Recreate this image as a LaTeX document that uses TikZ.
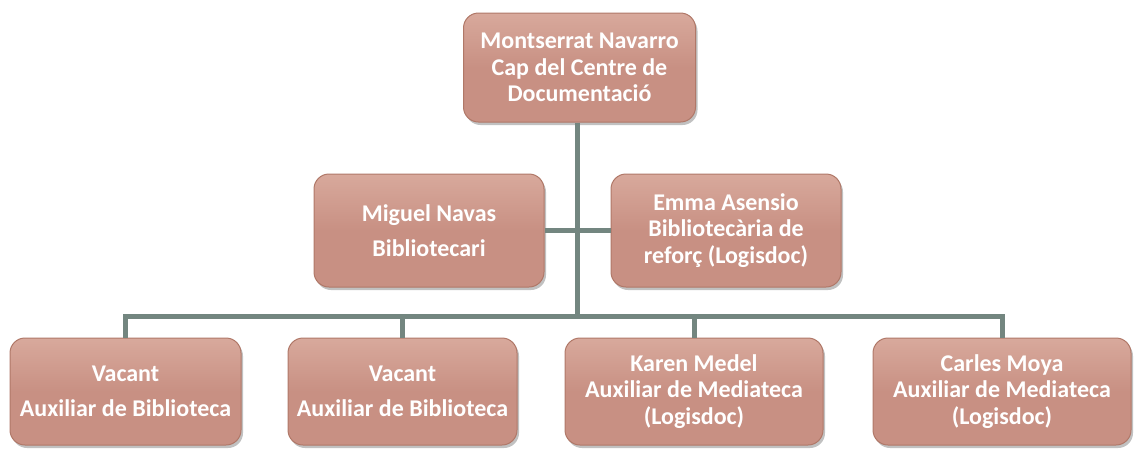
\documentclass[tikz,border=0pt]{standalone}
\usepackage{fontspec}
\setmainfont{Carlito}
\usetikzlibrary{shadows}
\definecolor{boxfill}{HTML}{C89083}
\definecolor{boxtop}{HTML}{D8A99C}
\definecolor{boxedge}{HTML}{B07868}
\definecolor{linkcol}{HTML}{738680}
\tikzset{
  x=1pt, y=-1pt,
  orgbox/.style={draw=boxedge, line width=1pt, rounded corners=15pt,
    top color=boxtop, bottom color=boxfill, middle color=boxfill,
    minimum width=230pt, inner sep=2pt, align=center,
    text=white, font=\bfseries\fontsize{24}{26.5}\selectfont,
    drop shadow={opacity=0.35, shadow xshift=2pt, shadow yshift=-3pt, fill=black!70}},
  widebox/.style={orgbox, minimum width=258pt},
  link/.style={draw=linkcol, line width=5pt}
}
\begin{document}
\begin{tikzpicture}
\useasboundingbox (0,0) rectangle (1134,448);
\node[orgbox, minimum width=232pt, minimum height=109pt] (top) at (579.5,67.5) {Montserrat Navarro\\Cap del Centre de\\Documentació};
\node[orgbox, minimum height=113pt] (ml) at (429,230.5) {Miguel Navas\\[8pt]Bibliotecari};
\node[orgbox, minimum height=113pt] (mr) at (726,230.5) {Emma Asensio\\Bibliotecària de\\reforç (Logisdoc)};
\node[orgbox, minimum width=231pt, minimum height=107pt] (b1) at (125.5,391.5) {Vacant\\[8pt]Auxiliar de Biblioteca};
\node[orgbox, minimum width=229pt, minimum height=107pt] (b2) at (402.5,391.5) {Vacant\\[8pt]Auxiliar de Biblioteca};
\node[widebox, minimum height=107pt] (b3) at (694,391.5) {Karen Medel\\Auxiliar de Mediateca\\(Logisdoc)};
\node[widebox, minimum height=107pt] (b4) at (1002,391.5) {Carles Moya\\Auxiliar de Mediateca\\(Logisdoc)};
\coordinate (j) at (577,316);
\draw[link] (top.south -| j) -- (j);
\draw[link] (ml.east) -- (mr.west);
\draw[link, line join=miter] (b1.north) -- (b1.north |- j) -- (b4.north |- j) -- (b4.north);
\draw[link] (b2.north) -- (b2.north |- j);
\draw[link] (b3.north) -- (b3.north |- j);
\end{tikzpicture}
\end{document}
